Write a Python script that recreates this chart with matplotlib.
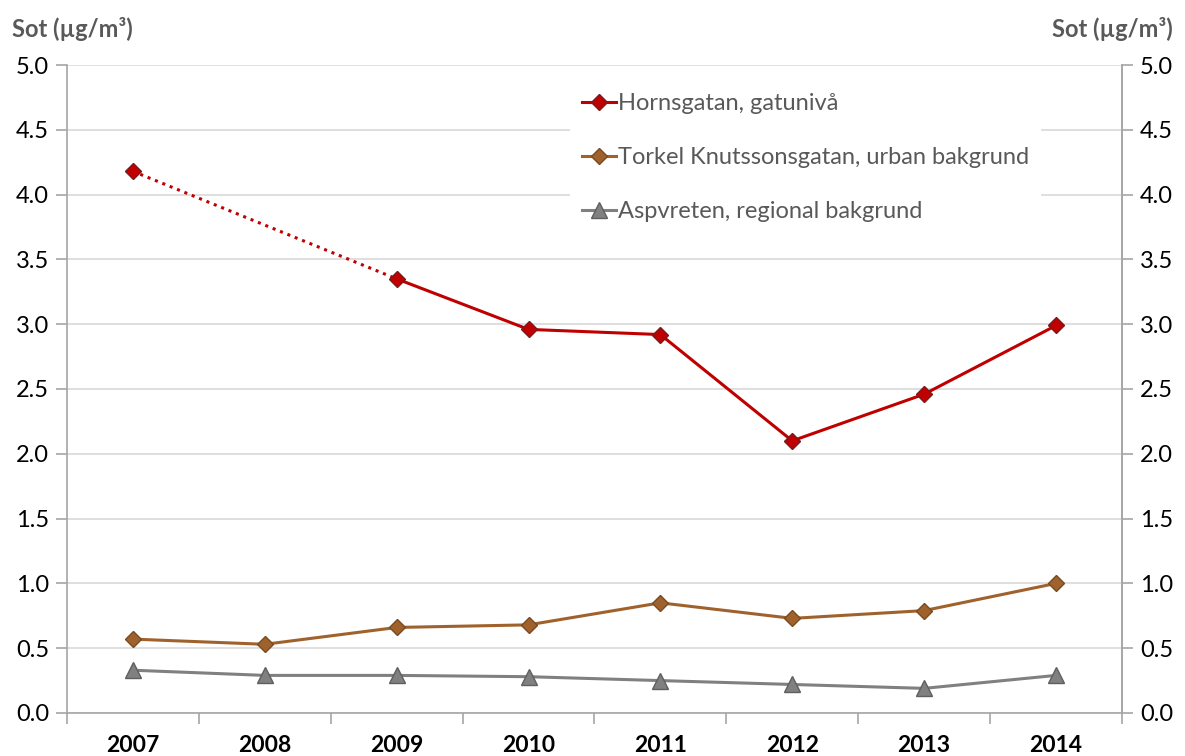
import numpy as np
import matplotlib.pyplot as plt
from matplotlib.lines import Line2D

plt.rcParams['font.family'] = ['Lato', 'DejaVu Sans']

# Data
years = ['2007', '2008', '2009', '2010', '2011', '2012', '2013', '2014']
hornsgatan = [4.18, np.nan, 3.35, 2.96, 2.92, 2.10, 2.46, 2.99]
torkel = [0.57, 0.53, 0.66, 0.68, 0.85, 0.73, 0.79, 1.00]
aspvreten = [0.33, 0.29, 0.29, 0.28, 0.25, 0.22, 0.19, 0.29]
labels = ['Hornsgatan, gatunivå',
          'Torkel Knutssonsgatan, urban bakgrund',
          'Aspvreten, regional bakgrund']
yticks = [0.0, 0.5, 1.0, 1.5, 2.0, 2.5, 3.0, 3.5, 4.0, 4.5, 5.0]

red, red_edge = '#C00000', '#7A1A1A'
brown, brown_edge = '#A0622D', '#7A4A20'
grey, grey_edge = '#808080', '#5F5F5F'
axis_col = '#A6A6A6'

fig = plt.figure(figsize=(11.85, 7.56), dpi=100)
ax = fig.add_axes([0.0565, 0.0569, 0.8903, 0.8571])
x = np.arange(len(years))

# dotted bridge over the missing 2008 value
ax.plot([x[0], x[2]], [hornsgatan[0], hornsgatan[2]], ls=(0, (1, 1.6)),
        color=red, lw=2.2, zorder=3)
ax.plot(x, hornsgatan, color=red, lw=2.2, marker='D', ms=8.5,
        mfc=red, mec=red_edge, mew=1, zorder=4)
ax.plot(x, torkel, color=brown, lw=2.2, marker='D', ms=8.5,
        mfc=brown, mec=brown_edge, mew=1, zorder=4)
ax.plot(x, aspvreten, color=grey, lw=2.2, marker='^', ms=11,
        mfc=grey, mec=grey_edge, mew=1, zorder=4)

ax.set_xlim(-0.5, len(years) - 0.5)
ax.set_ylim(0, 5)
ax.set_yticks(yticks)
ax.set_yticklabels([f'{v:.1f}' for v in yticks], fontsize=17)
ax.yaxis.grid(True, color='#D9D9D9', lw=1.2)
ax.set_axisbelow(True)

ax.set_xticks(x)
ax.set_xticklabels(years, fontsize=16.5, fontweight='bold')
ax.set_xticks(np.arange(-0.5, len(years)), minor=True)
ax.tick_params(axis='x', which='major', length=0, pad=16)
ax.tick_params(axis='x', which='minor', length=8, color=axis_col, width=1.2)
ax.tick_params(axis='y', length=8, color=axis_col, width=1.2, pad=5)

ax.spines['top'].set_visible(False)
for s in ['left', 'right', 'bottom']:
    ax.spines[s].set_color(axis_col)
    ax.spines[s].set_linewidth(1.2)

ax2 = ax.twinx()
ax2.set_ylim(0, 5)
ax2.set_yticks(yticks)
ax2.set_yticklabels([f'{v:.1f}' for v in yticks], fontsize=17)
ax2.tick_params(axis='y', length=8, color=axis_col, width=1.2, pad=5)
for s in ['top', 'left', 'bottom']:
    ax2.spines[s].set_visible(False)
ax2.spines['right'].set_color(axis_col)
ax2.spines['right'].set_linewidth(1.2)

fig.text(0.010, 0.962, 'Sot (µg/m³)', fontsize=17, fontweight='bold',
         color='#595959', ha='left', va='center')
fig.text(0.990, 0.962, 'Sot (µg/m³)', fontsize=17, fontweight='bold',
         color='#595959', ha='right', va='center')

handles = [
    Line2D([], [], color=red, lw=2.2, marker='D', ms=8.5, mfc=red, mec=red_edge),
    Line2D([], [], color=brown, lw=2.2, marker='D', ms=8.5, mfc=brown, mec=brown_edge),
    Line2D([], [], color=grey, lw=2.2, marker='^', ms=11, mfc=grey, mec=grey_edge),
]
leg = ax.legend(handles, labels, loc='upper left', bbox_to_anchor=(0.477, 0.975),
                frameon=True, facecolor='white', edgecolor='none', framealpha=1,
                fontsize=17, labelspacing=1.4, handlelength=1.45,
                handletextpad=0.08, borderpad=0.5, borderaxespad=0)
for t in leg.get_texts():
    t.set_color('#595959')
leg.set_zorder(5)

fig.savefig('out.png', dpi=100)
